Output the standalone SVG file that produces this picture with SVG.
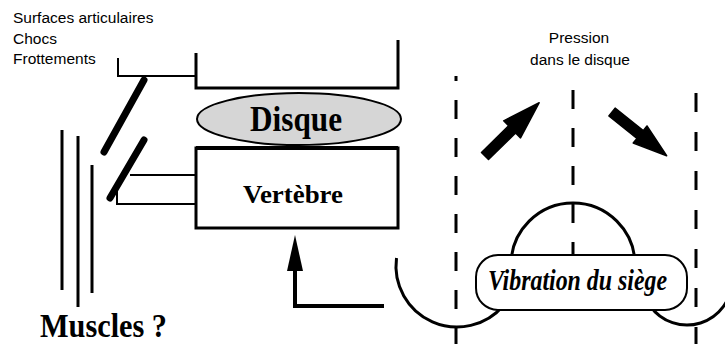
<svg xmlns="http://www.w3.org/2000/svg" width="725" height="344" viewBox="0 0 725 344">
<style>
.thick{fill:none;stroke:#000;stroke-width:3}
.thin{fill:none;stroke:#000;stroke-width:2}
.bar{stroke:#000;stroke-width:7;stroke-linecap:round}
.dash{stroke:#000;stroke-width:3;fill:none}
.sans{font-family:"Liberation Sans",Arial,sans-serif;font-size:15.5px;fill:#000}
.serifb{font-family:"Liberation Serif","Times New Roman",serif;font-weight:bold;fill:#000}
.arrow{fill:#000;stroke:#000;stroke-width:1.5;stroke-linejoin:round}
</style>
<rect width="725" height="344" fill="#fff"/>

<g id="label-left">
<text class="sans" x="13" y="23">Surfaces articulaires</text>
<text class="sans" x="13" y="43.5">Chocs</text>
<text class="sans" x="13" y="64">Frottements</text>
</g>

<g id="node-top-plate">
<polyline class="thick" points="196,53 196,88 398,88 398,40"/>
</g>

<g id="node-disque">
<ellipse cx="299" cy="119" rx="102" ry="26" fill="#d6d6d6" stroke="#000" stroke-width="2"/>
<text class="serifb" x="296" y="131" font-size="36" text-anchor="middle" textLength="92" lengthAdjust="spacingAndGlyphs">Disque</text>
</g>

<g id="node-vertebre">
<rect x="196" y="148" width="202" height="80" fill="#fff" stroke="#000" stroke-width="3"/>
<line x1="196" y1="148" x2="398" y2="148" stroke="#000" stroke-width="4"/>
<text class="serifb" x="293" y="203" font-size="26" text-anchor="middle" textLength="100" lengthAdjust="spacingAndGlyphs">Vertèbre</text>
</g>

<g id="node-facettes">
<line class="bar" x1="144" y1="80" x2="104" y2="152"/>
<line class="bar" x1="144" y1="140" x2="110" y2="198"/>
</g>

<g id="node-muscles">
<line x1="62" y1="130" x2="62" y2="290" stroke="#000" stroke-width="3"/>
<line x1="78" y1="136" x2="78" y2="307" stroke="#000" stroke-width="3"/>
<line x1="92" y1="165" x2="92" y2="293" stroke="#000" stroke-width="3"/>
<text class="serifb" x="40" y="337" font-size="33" textLength="127" lengthAdjust="spacingAndGlyphs">Muscles ?</text>
</g>

<g id="connectors">
<polyline class="thin" points="118,58 118,76 196,76"/>
<line class="thin" x1="130" y1="175" x2="196" y2="175"/>
<polyline class="thin" points="117,190 117,204 196,204"/>
<polyline fill="none" stroke="#000" stroke-width="4" points="384,306 295,306 295,268"/>
<polygon points="287,271 303,271 295,235" fill="#000"/>
</g>

<g id="node-pression">
<text class="sans" x="579" y="43" text-anchor="middle">Pression</text>
<text class="sans" x="580" y="65" text-anchor="middle">dans le disque</text>
<line class="dash" x1="456" y1="76" x2="456" y2="344" stroke-dasharray="19 19" stroke-dashoffset="14"/>
<line class="dash" x1="573" y1="90" x2="573" y2="256" stroke-dasharray="19 19"/>
<line class="dash" x1="696" y1="93" x2="696" y2="344" stroke-dasharray="19 20"/>
<g transform="translate(485,156) rotate(-44.5)"><polygon class="arrow" points="0,-5 38,-5 38,-12 76,0 38,12 38,5 0,5"/></g>
<g transform="translate(612,112) rotate(38.7)"><polygon class="arrow" points="0,-5 36,-5 36,-11 70,0 36,11 36,5 0,5"/></g>
</g>

<g id="node-vibration">
<path class="thick" d="M 511,265 A 62 62 0 0 1 635,265"/>
<path class="thick" d="M 396.5,258 A 61 61 0 0 0 503.7,305.2"/>
<path class="thick" d="M 650.1,305.8 A 45 45 0 0 0 732,280"/>
<rect x="476" y="255" width="211" height="55" rx="22" ry="22" fill="#fff" stroke="#000" stroke-width="2"/>
<text class="serifb" x="488" y="290" font-size="29" font-style="italic" textLength="179" lengthAdjust="spacingAndGlyphs">Vibration du siège</text>
</g>
</svg>
